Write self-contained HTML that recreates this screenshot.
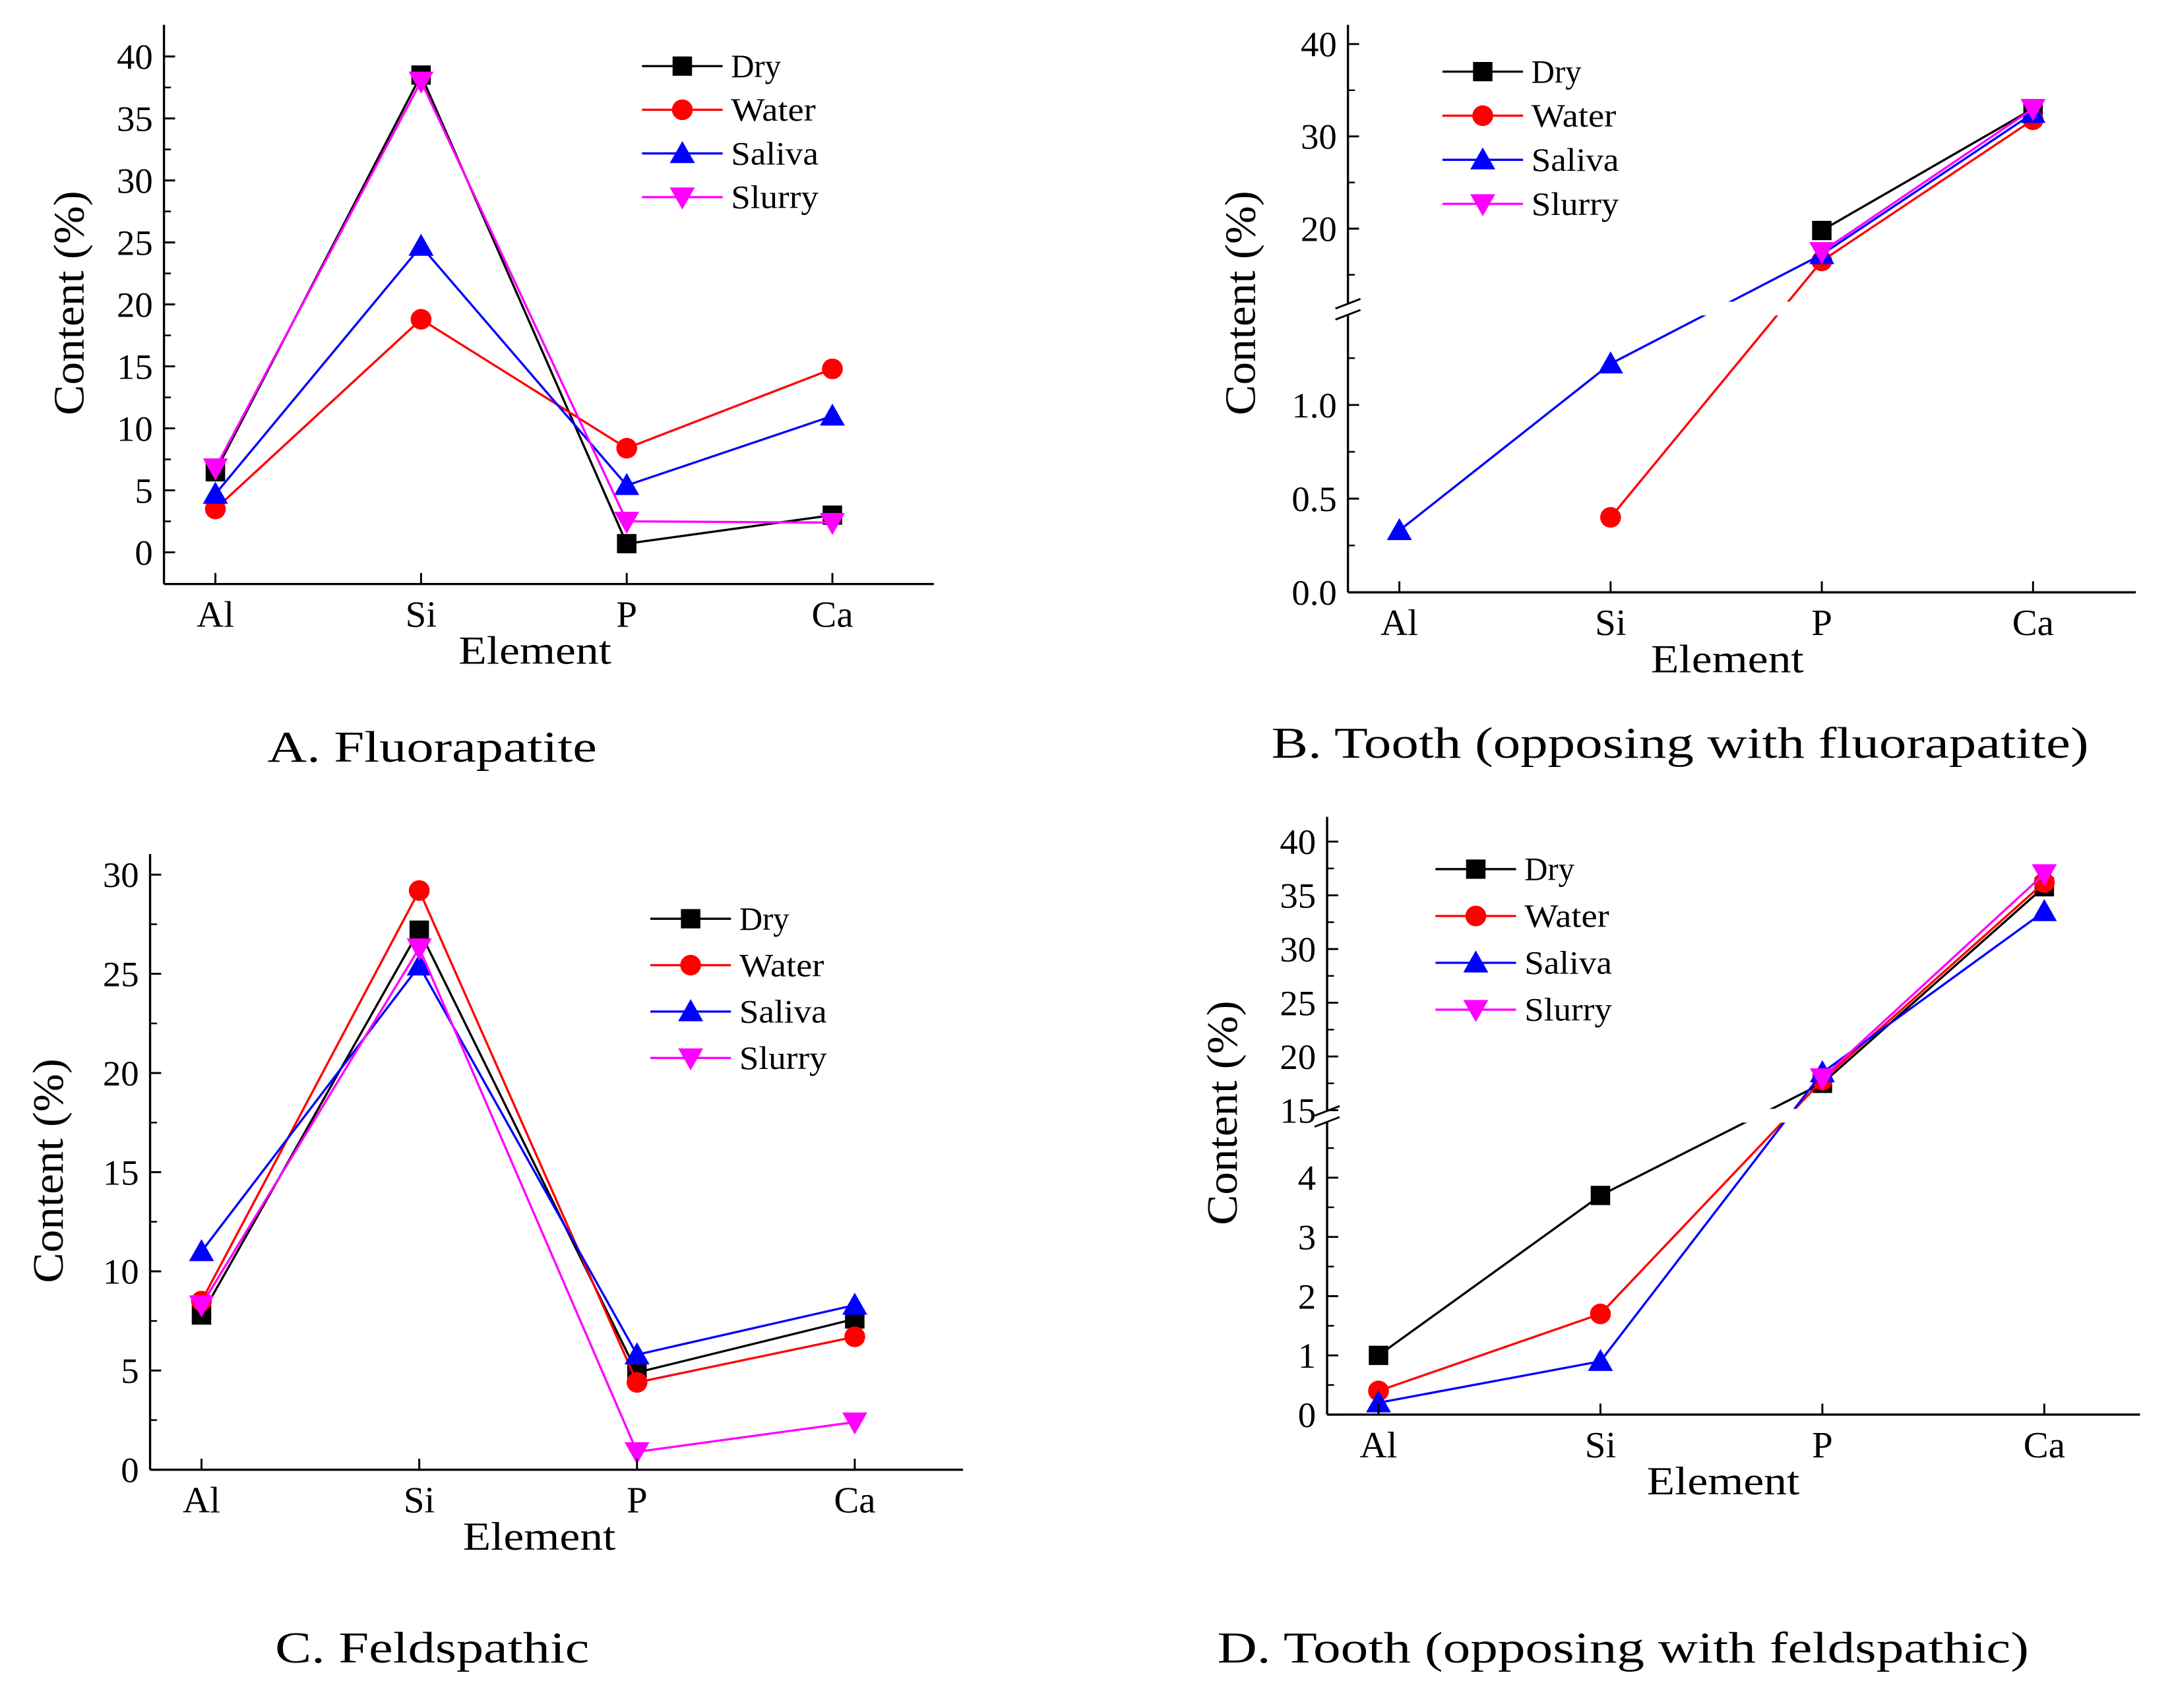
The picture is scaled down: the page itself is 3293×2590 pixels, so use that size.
<!DOCTYPE html>
<html><head><meta charset="utf-8">
<style>
html,body{margin:0;padding:0;background:#fff;}
svg{display:block;}
text{font-family:"Liberation Serif",serif;fill:#000;}
</style></head>
<body>
<svg id="fig" width="3293" height="2590" viewBox="0 0 1563 1240" preserveAspectRatio="none" xmlns="http://www.w3.org/2000/svg"></svg>
<script>
const categories = ["Al","Si","P","Ca"];
const seriesNames = ["Dry","Water","Saliva","Slurry"];
// Panel A (Fluorapatite)
const aDry = [6.5, 38.5, 0.7, 3.0];
const aWater = [3.5, 18.8, 8.4, 14.8];
const aSaliva = [4.7, 24.7, 5.4, 11.0];
const aSlurry = [6.8, 38.0, 2.5, 2.4];
// Panel B (Tooth vs fluorapatite)
const bDry = [null, null, 19.8, 33.0];
const bWater = [null, 0.4, 16.5, 31.8];
const bSaliva = [0.33, 1.22, 17.2, 32.5];
const bSlurry = [null, null, 17.5, 33.0];
// Panel C (Feldspathic)
const cDry = [7.8, 27.2, 4.9, 7.6];
const cWater = [8.5, 29.2, 4.4, 6.7];
const cSaliva = [11.0, 25.4, 5.8, 8.3];
const cSlurry = [8.3, 26.3, 0.9, 2.4];
// Panel D (Tooth vs feldspathic)
const dDry = [1.0, 3.7, 17.5, 35.8];
const dWater = [0.4, 1.7, 17.8, 36.2];
const dSaliva = [0.2, 0.9, 18.5, 33.5];
const dSlurry = [null, null, 18.0, 37.0];
// tick labels
const aTicks = [0,5,10,15,20,25,30,35,40];
const bLowTicks = ["0.0","0.5","1.0"];
const bHighTicks = [20,30,40];
const cTicks = [0,5,10,15,20,25,30];
const dLowTicks = [0,1,2,3,4];
const dHighTicks = [15,20,25,30,35,40];

const NS="http://www.w3.org/2000/svg";
const svg=document.getElementById('fig');
const colors=["#000","#f00","#00f","#f0f"];
const markers=["square","circle","up","down"];
const legendLen={Dry:36,Water:61,Saliva:63,Slurry:63};
function el(tag,attrs,parent){const e=document.createElementNS(NS,tag);for(const k in attrs)e.setAttribute(k,attrs[k]);(parent||svg).appendChild(e);return e;}
function txt(x,y,s,size,anchor,parent,len){const a={x:x,y:y,'font-size':size,'text-anchor':anchor||'middle'};if(len){a.textLength=len;a.lengthAdjust='spacingAndGlyphs';}const t=el('text',a,parent);t.textContent=s;return t;}
function marker(type,x,y,c,g){
  let m;
  if(type==="square")m=el('rect',{x:x-7,y:y-7,width:14,height:14,fill:c},g);
  else if(type==="circle")m=el('circle',{cx:x,cy:y,r:7.5,fill:c},g);
  else if(type==="up")m=el('polygon',{points:`${x},${y-9} ${x+9},${y+7} ${x-9},${y+7}`,fill:c},g);
  else m=el('polygon',{points:`${x},${y+9} ${x+9},${y-7} ${x-9},${y-7}`,fill:c},g);
  return m;
}
function panel(cfg){
  const g=el('g',{});
  
  
  const X=i=>cfg.x0+i*cfg.dx;
  cfg.series.forEach((vals,si)=>{
    const sg=el('g',{},g);
    
    
    for(let i=0;i<vals.length-1;i++){
      if(vals[i]==null||vals[i+1]==null)continue;
      const l=el('line',{x1:X(i),y1:cfg.Y(vals[i]),x2:X(i+1),y2:cfg.Y(vals[i+1]),stroke:colors[si],'stroke-width':1.6},sg);
      
      
    }
    vals.forEach((v,i)=>{if(v==null)return;
      const m=marker(markers[si],X(i),cfg.Y(v),colors[si],sg);
      
      
    });
  });
  if(cfg.breakY){el('rect',{x:cfg.ax+3,y:cfg.breakY-7,width:cfg.axR-cfg.ax-3,height:10,fill:'#fff'},g);}
  const ax=el('g',{},g);
  
  
  if(cfg.breakY){
    el('line',{x1:cfg.ax,y1:cfg.top,x2:cfg.ax,y2:cfg.breakY-5,stroke:'#000','stroke-width':1.6},ax);
    el('line',{x1:cfg.ax,y1:cfg.breakY+3,x2:cfg.ax,y2:cfg.ay,stroke:'#000','stroke-width':1.6},ax);
    el('line',{x1:cfg.ax-9,y1:cfg.breakY-2,x2:cfg.ax+9,y2:cfg.breakY-9,stroke:'#000','stroke-width':1.4},ax);
    el('line',{x1:cfg.ax-9,y1:cfg.breakY+6,x2:cfg.ax+9,y2:cfg.breakY-1,stroke:'#000','stroke-width':1.4},ax);
  } else el('line',{x1:cfg.ax,y1:cfg.top,x2:cfg.ax,y2:cfg.ay,stroke:'#000','stroke-width':1.6},ax);
  el('line',{x1:cfg.ax,y1:cfg.ay,x2:cfg.axR,y2:cfg.ay,stroke:'#000','stroke-width':1.6},ax);
  cfg.ticks.forEach(t=>{const y=cfg.Y(parseFloat(t));
    el('line',{x1:cfg.ax,y1:y,x2:cfg.ax+8,y2:y,stroke:'#000','stroke-width':1.4},ax);
    const tl=txt(cfg.ax-8,y+9,String(t),26,'end',ax);
    
    
  });
  (cfg.minor||[]).forEach(v=>{const y=cfg.Y(v);el('line',{x1:cfg.ax,y1:y,x2:cfg.ax+5,y2:y,stroke:'#000','stroke-width':1.2},ax);});
  categories.forEach((c,i)=>{
    el('line',{x1:X(i),y1:cfg.ay,x2:X(i),y2:cfg.ay-8,stroke:'#000','stroke-width':1.4},ax);
    const tl=txt(X(i),cfg.ay+31,c,27,'middle',ax);
    
    
  });
  const xt=txt(cfg.xtX,cfg.ay+58,'Element',29,'middle',g,110);
  
  
  const yt=txt(0,0,'Content (%)',31,'middle',g,163);
  yt.setAttribute('transform',`translate(${cfg.ytX},${cfg.ytY}) rotate(-90)`);
  
  
  const lg=el('g',{},g);
  
  
  seriesNames.forEach((s,si)=>{
    const y=cfg.legY+si*cfg.legDy;
    const e=el('g',{},lg);
    
    
    el('line',{x1:cfg.legX,y1:y,x2:cfg.legX+58,y2:y,stroke:colors[si],'stroke-width':1.6},e);
    marker(markers[si],cfg.legX+29,y,colors[si],e);
    txt(cfg.legX+64,y+8,s,24,'start',e,legendLen[s]);
  });
  const cap=txt(cfg.capX,cfg.capY,cfg.caption,32,'middle',g,cfg.capLen);
  
  
}
function range(a,b,s){const r=[];for(let v=a;v<=b+1e-9;v+=s)r.push(+v.toFixed(3));return r;}
panel({name:'panel-a-fluorapatite',x0:155,dx:148,ax:118,axR:672,ay:424,top:18,
  Y:v=>401-v*9,ticks:aTicks,minor:range(2.5,37.5,5),series:[aDry,aWater,aSaliva,aSlurry],
  xtX:385,ytX:60,ytY:220,legX:462,legY:48,legDy:31.7,caption:'A. Fluorapatite',capX:311,capY:553,capLen:237});
const bY=v=>v<=1.6?430-v*136:166-(v-20)*6.7;
panel({name:'panel-b-tooth-fluorapatite',x0:1007,dx:152,ax:970,axR:1537,ay:430,top:18,breakY:226,
  Y:bY,ticks:[...bLowTicks,...bHighTicks],minor:[0.25,0.75,1.25,15,25,35],series:[bDry,bWater,bSaliva,bSlurry],
  xtX:1243,ytX:903,ytY:220,legX:1038,legY:52,legDy:32,caption:'B. Tooth (opposing with fluorapatite)',capX:1209,capY:550,capLen:588});
panel({name:'panel-c-feldspathic',x0:145,dx:156.7,ax:108,axR:693,ay:1067,top:620,
  Y:v=>1067-v*14.4,ticks:cTicks,minor:range(2.5,27.5,5),series:[cDry,cWater,cSaliva,cSlurry],
  xtX:388,ytX:45,ytY:850,legX:468,legY:667,legDy:33.7,caption:'C. Feldspathic',capX:311,capY:1207,capLen:226});
const dY=v=>v<=5?1027-v*43:806-(v-15)*7.8;
panel({name:'panel-d-tooth-feldspathic',x0:992,dx:159.7,ax:955,axR:1540,ay:1027,top:593,breakY:812,
  Y:dY,ticks:[...dLowTicks,...dHighTicks],minor:[0.5,1.5,2.5,3.5,4.5,17.5,22.5,27.5,32.5,37.5],series:[dDry,dWater,dSaliva,dSlurry],
  xtX:1240,ytX:890,ytY:808,legX:1033,legY:631,legDy:34,caption:'D. Tooth (opposing with feldspathic)',capX:1168,capY:1207,capLen:584});
</script>
</body></html>
